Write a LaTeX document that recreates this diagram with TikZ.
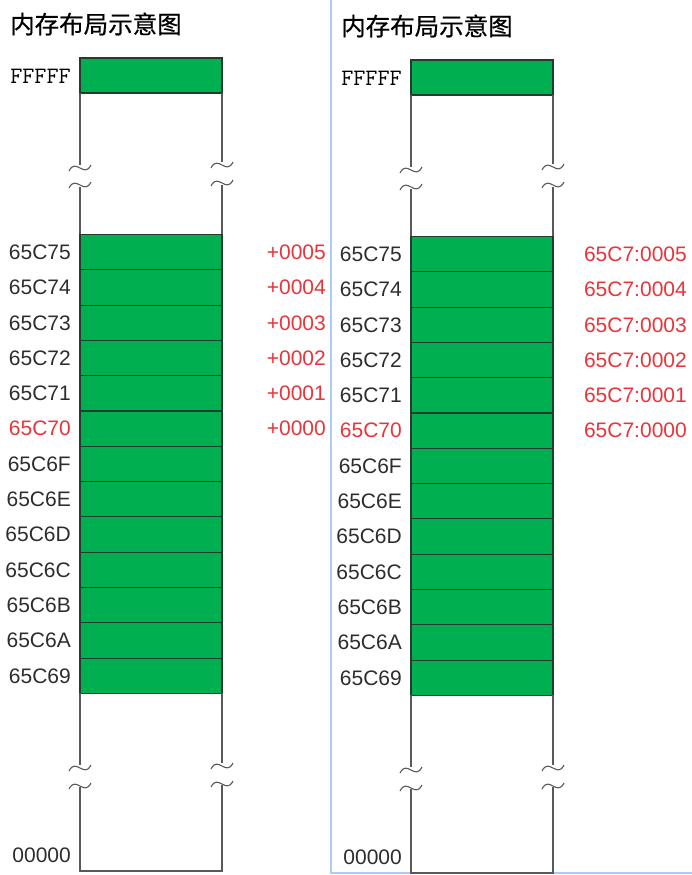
\documentclass[tikz,border=0pt]{standalone}
\usepackage{fontspec}
\usepackage{xcolor}
\usepackage{tikz}
\setmainfont{Liberation Sans}
\newfontfamily\cjkfont[FakeBold=0.6]{Noto Sans CJK SC}

\definecolor{cellgreen}{RGB}{0,176,80}
\definecolor{celledge}{RGB}{35,60,45}
\definecolor{addrred}{RGB}{232,52,58}
\definecolor{addrgray}{RGB}{45,45,45}
\definecolor{frameblue}{RGB}{172,204,245}
\newcommand{\brkmark}[2]{\draw[colline] (#1-11,#2+3) .. controls (#1-4,#2-11) and (#1+4,#2+11) .. (#1+11,#2-3)}

\tikzset{
  cellbox/.style={fill=cellgreen,draw=celledge,line width=1.1bp},
  colline/.style={draw=black!65,line width=1.1bp},
  addr/.style={inner sep=0pt,anchor=east,text=addrgray,font=\fontsize{21bp}{25bp}\selectfont},
  offs/.style={inner sep=0pt,anchor=east,text=addrred,font=\fontsize{21bp}{25bp}\selectfont},
  ttl/.style={inner sep=0pt,anchor=west,font=\fontsize{24.5bp}{28bp}\cjkfont}
}

\begin{document}
\begin{tikzpicture}[x=1bp,y=-1bp]
    \useasboundingbox (0,0) rectangle (692,875);

    % frame of the right half
    \draw[frameblue,line width=2bp] (331,0) -- (331,873) -- (692,873);

    \foreach \px/\py/\pn in {0/0/l,331/2/r}{
    \begin{scope}[shift={(\px,\py)},name prefix=\pn-]
    \node[ttl] (title) at (10,24) {内存布局示意图};

    % top cell
    \draw[cellbox] (80,58) rectangle (222,93);
    \node[addr,text=black,font=\fontsize{23.5bp}{26bp}\ttfamily] (top) at (71,76) {FFFFF};

    \draw[colline] (80,93) -- (80,165);
    \draw[colline] (80,187) -- (80,234.5);
    \draw[colline] (222,93) -- (222,162);
    \draw[colline] (222,185) -- (222,234.5);
    \brkmark{80}{168};
    \brkmark{80}{185};
    \brkmark{222}{165};
    \brkmark{222}{183};

    % used cells
    \foreach \i in {0,...,12}
      \draw[cellbox] (80,234.5+35.3*\i) rectangle (222,269.8+35.3*\i);
    \foreach \lab/\col [count=\i from 0] in {65C75/addrgray,65C74/addrgray,65C73/addrgray,
        65C72/addrgray,65C71/addrgray,65C70/addrred,65C6F/addrgray,65C6E/addrgray,
        65C6D/addrgray,65C6C/addrgray,65C6B/addrgray,65C6A/addrgray,65C69/addrgray}
      \node[addr,text=\col] (c\i) at (71,252.2+35.3*\i) {\lab};

    % bottom part
    \draw[colline] (80,693.4) -- (80,765);
    \draw[colline] (80,787) -- (80,871) -- (222,871) -- (222,785);
    \draw[colline] (222,693.4) -- (222,763);
    \brkmark{80}{768};
    \brkmark{80}{786};
    \brkmark{222}{766};
    \brkmark{222}{784};
    \node[addr] (bot) at (71,855) {00000};
    \end{scope}
    }

    % offsets, left half
    \foreach \k [count=\i from 0] in {5,4,3,2,1,0}
      \node[offs] (l-o\i) at (326,252.2+35.3*\i) {+000\k};
    % segment:offset, right half
    \foreach \k [count=\i from 0] in {5,4,3,2,1,0}
      \node[offs] (r-o\i) at (687,254.2+35.3*\i) {65C7:000\k};
\end{tikzpicture}
\end{document}
